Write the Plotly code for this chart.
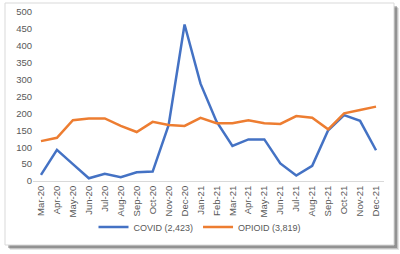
import plotly.graph_objects as go

months = ["Mar-20", "Apr-20", "May-20", "Jun-20", "Jul-20", "Aug-20", "Sep-20", "Oct-20",
          "Nov-20", "Dec-20", "Jan-21", "Feb-21", "Mar-21", "Apr-21", "May-21", "Jun-21",
          "Jul-21", "Aug-21", "Sep-21", "Oct-21", "Nov-21", "Dec-21"]
covid = [18, 92, 50, 8, 21, 11, 26, 28, 165, 463, 288, 176, 104, 123, 123, 52,
         16, 45, 150, 195, 178, 91]
opioid = [118, 128, 180, 185, 185, 163, 145, 175, 166, 163, 187, 171, 171, 180, 171, 169,
          192, 187, 153, 200, 210, 220]
y_ticks = [0, 50, 100, 150, 200, 250, 300, 350, 400, 450, 500]

W, H = 400, 254
L, R, T, B = 33, 16, 12, 73
pw, ph = W - L - R, H - T - B


def px(x):
    return (x - L) / pw


def py(y):
    return (H - B - y) / ph


fig = go.Figure()
fig.add_trace(go.Scatter(x=months, y=covid, mode="lines", name="COVID (2,423)",
                         line=dict(color="#4472C4", width=2.5)))
fig.add_trace(go.Scatter(x=months, y=opioid, mode="lines", name="OPIOID (3,819)",
                         line=dict(color="#ED7D31", width=2.5)))

shapes = []
# soft shadow
for off, col in [(5, "rgba(0,0,0,0.10)"), (4, "rgba(0,0,0,0.15)"), (3, "rgba(0,0,0,0.25)")]:
    shapes.append(dict(type="rect", xref="paper", yref="paper", layer="below",
                       x0=px(5 + off), x1=px(394 + off), y0=py(245 + off), y1=py(3 + off),
                       fillcolor=col, line=dict(width=0)))
shapes.append(dict(type="rect", xref="paper", yref="paper", layer="below",
                   x0=px(5), x1=px(394), y0=py(245), y1=py(3),
                   fillcolor="white", line=dict(color="#d9d9d9", width=1)))

fig.update_layout(
    width=W, height=H,
    margin=dict(l=L, r=R, t=T, b=B, autoexpand=False),
    paper_bgcolor="white", plot_bgcolor="white",
    font=dict(family="Liberation Sans, Arial, sans-serif", size=9, color="#595959"),
    shapes=shapes,
    showlegend=True,
    legend=dict(orientation="h", xref="container", yref="container",
                x=0.5, xanchor="center", y=1 - 227 / H, yanchor="middle",
                font=dict(size=9, color="#595959"), itemwidth=30, bgcolor="rgba(0,0,0,0)"),
    xaxis=dict(type="category", tickangle=-90, showgrid=False, showline=True,
               linecolor="#d9d9d9", linewidth=1, ticks="", tickfont=dict(size=9.5),
               range=[-0.5, len(months) - 0.5], automargin=False),
    yaxis=dict(range=[0, 500], tickvals=y_ticks, showgrid=False, zeroline=False,
               showline=False, ticks="", tickfont=dict(size=9.5), automargin=False),
)

fig.write_html("out.html", config={"displayModeBar": False},
               post_script="document.body.style.margin='0';")
